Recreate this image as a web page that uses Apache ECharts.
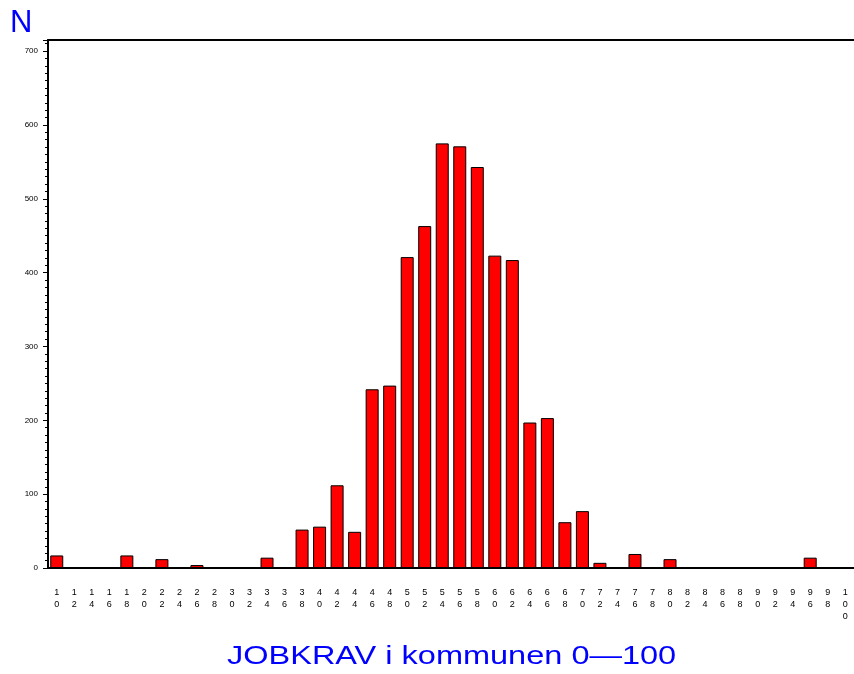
<!DOCTYPE html>
<html>
<head>
<meta charset="utf-8">
<script src="https://cdn.jsdelivr.net/npm/echarts@6/dist/echarts.min.js"></script>
<style>
  html, body { margin: 0; padding: 0; background: #fff; }
  #chart { width: 854px; height: 674px; }
</style>
</head>
<body>
<div id="chart"></div>
<script>
// kategorier 10..100 i trin af 2
const categories = ['10', '12', '14', '16', '18', '20', '22', '24', '26', '28',
    '30', '32', '34', '36', '38', '40', '42', '44', '46', '48',
    '50', '52', '54', '56', '58', '60', '62', '64', '66', '68',
    '70', '72', '74', '76', '78', '80', '82', '84', '86', '88',
    '90', '92', '94', '96', '98', '100'];
const counts = [17, 0, 0, 0, 17, 0, 12, 0, 4, 0,
    0, 0, 14, 0, 52, 56, 112, 49, 242, 247,
    421, 463, 575, 571, 543, 423, 417, 197, 203, 62,
    77, 7, 0, 19, 0, 12, 0, 0, 0, 0,
    0, 0, 0, 14, 0, 0];
const yTicks = [0, 100, 200, 300, 400, 500, 600, 700];

const chart = echarts.init(document.getElementById('chart'));

const option = {
    animation: false,
    backgroundColor: '#fff',
    textStyle: { fontFamily: 'Liberation Sans' },
    title: {
        text: 'N', left: 5, top: 3,
        textStyle: { color: '#0000ff', fontSize: 31, fontWeight: 'normal', fontFamily: 'Liberation Sans' }
    },
    // aksetitel, strakt lidt i bredden som i originalen
    graphic: [{
        type: 'text',
        x: 227, y: 644,
        scaleX: 1.25,
        style: {
            text: 'JOBKRAV i kommunen 0\u2014100',
            fill: '#0000ff',
            font: '26px "Liberation Sans"',
            textVerticalAlign: 'top'
        }
    }],
    grid: { left: 48, top: 40, width: 810, height: 528 },
    xAxis: [
        {
            type: 'category',
            data: categories,
            position: 'bottom',
            axisLine: { lineStyle: { color: '#000', width: 2 } },
            axisTick: { show: false },
            axisLabel: {
                interval: 0, fontSize: 9, lineHeight: 12, margin: 19, color: '#000',
                formatter: v => v.split('').join('\n')
            }
        },
        {
            type: 'category',
            data: categories,
            position: 'top',
            axisLine: { lineStyle: { color: '#000', width: 2 } },
            axisTick: { show: false },
            axisLabel: { show: false }
        }
    ],
    yAxis: {
        type: 'value',
        min: 0,
        max: 715,
        interval: 100,
        splitLine: { show: false },
        axisLine: { show: true, lineStyle: { color: '#000', width: 2 } },
        axisTick: { show: true, length: 5, lineStyle: { color: '#000' } },
        minorTick: { show: true, splitNumber: 10, length: 3, lineStyle: { color: '#000' } },
        axisLabel: {
            fontSize: 8, color: '#000', margin: 10,
            formatter: v => (yTicks.indexOf(v) >= 0 ? String(v) : '')
        }
    },
    series: [{
        type: 'bar',
        data: counts,
        barWidth: 13,
        itemStyle: { color: '#ff0000', borderColor: '#000', borderWidth: 1 }
    }]
};

chart.setOption(option);
</script>
</body>
</html>
